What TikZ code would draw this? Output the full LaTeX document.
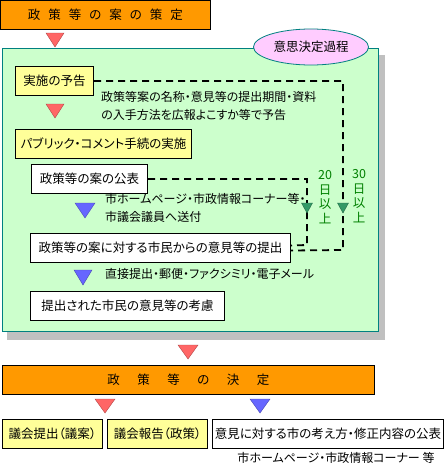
\documentclass[tikz,border=0pt]{standalone}
\usepackage{fontspec}
\setmainfont{Noto Sans CJK JP}[RawFeature={+palt}]
\usepackage{tikz}
\usetikzlibrary{shapes.geometric}
\definecolor{panelgreen}{RGB}{204,255,204}
\definecolor{panelteal}{RGB}{0,128,128}
\definecolor{boxyellow}{RGB}{255,255,153}
\definecolor{headorange}{RGB}{255,153,0}
\definecolor{ovalpink}{RGB}{255,204,255}
\definecolor{trired}{RGB}{255,102,102}
\definecolor{triblue}{RGB}{102,102,255}
\definecolor{trigreen}{RGB}{51,153,102}
\definecolor{daygreen}{RGB}{0,128,0}
\definecolor{shadowgray}{RGB}{192,192,192}
\newcommand{\tgap}{\hspace{8pt}}
\newcommand{\dgap}{\hspace{17.5pt}}
\newcommand{\dntri}[5]{\fill[#1,draw=#1!70!black,line width=0.4pt] (#2-#4,#3) -- (#2+#4,#3) -- (#2,#3+#5) -- cycle;}
\tikzset{
  box/.style={draw,line width=1pt,inner sep=0pt,anchor=north west,minimum height=29pt,font=\fontsize{12.5}{14}\selectfont},
  ybox/.style={box,fill=boxyellow},
  wbox/.style={box,fill=white},
  obox/.style={box,fill=headorange,line width=0.8pt},
  note/.style={anchor=north west,inner sep=0pt,align=left,font=\fontsize{12}{18}\selectfont},
  days/.style={text=daygreen,inner sep=0pt,align=center,font=\fontsize{12.5}{14.5}\selectfont},
  dashline/.style={line width=1.8pt,dash pattern=on 7pt off 5pt}
}

\begin{document}
\begin{tikzpicture}[x=1pt,y=-1pt]
\useasboundingbox (0,0) rectangle (444,463);
\node[obox,minimum width=210pt] (plan) at (0,0) {政\tgap 策\tgap 等\tgap の\tgap 案\tgap の\tgap 策\tgap 定};
\dntri{trired}{55}{33}{9}{14}
\fill[shadowgray] (7,55) rectangle (385,340);
\draw[panelteal,fill=panelgreen,line width=0.8pt] (2,48) rectangle (378,331);
\node[ellipse,draw=panelteal,fill=ovalpink,line width=0.8pt,minimum width=115pt,minimum height=36pt,inner sep=0pt,font=\fontsize{12.5}{14}\selectfont] (process) at (311,47) {意思決定過程};
\node[ybox,minimum width=78pt] (yotei) at (15,66) {実施の予告};
\dntri{trired}{55}{104}{9}{14}
\node[note] (yoteinote) at (101,91) {政策等案の名称・意見等の提出期間・資料\\の入手方法を広報よこすか等で予告};
\node[ybox,minimum width=176pt] (jisshi) at (15,129) {パブリック・コメント手続の実施};
\node[wbox,minimum width=116pt] (kohyo) at (31,164) {政策等の案の公表};
\dntri{triblue}{85}{203}{10}{15}
\node[note] (sofu) at (105,193) {市ホームページ・市政情報コーナー等・\\市議会議員へ送付};
\node[wbox,minimum width=260pt] (iken) at (30,233) {政策等の案に対する市民からの意見等の提出};
\dntri{triblue}{83}{270}{9}{15}
\node[note] (hoho) at (105,268) {直接提出・郵便・ファクシミリ・電子メール};
\node[wbox,minimum width=194pt] (koryo) at (30,291) {提出された市民の意見等の考慮};
\coordinate (c20) at (307,245);
\coordinate (c30) at (343,250);
\draw[dashline] (yotei.east) -| (c30) -- ([yshift=-2.5pt]iken.east);
\draw[dashline] (kohyo.east) -| (c20) -- ([yshift=2.5pt]iken.east);
\dntri{trigreen}{307}{203}{5.5}{10}
\dntri{trigreen}{343}{203}{5.5}{10}
\node[days] (d20) at (325,197) {20\\日\\以\\上};
\node[days] (d30) at (359,196) {30\\日\\以\\上};
\dntri{trired}{188}{345}{10}{14}
\node[obox,minimum width=372pt] (kettei) at (2,365) {政\dgap 策\dgap 等\dgap の\dgap 決\dgap 定};
\dntri{trired}{105}{399}{10}{14}
\dntri{triblue}{260}{399}{10}{14}
\node[ybox,minimum width=100pt] (gian) at (2,419) {議会提出（議案）};
\node[ybox,minimum width=100pt] (hokoku) at (107,419) {議会報告（政策）};
\node[wbox,minimum width=231pt] (kangae) at (212,419) {意見に対する市の考え方・修正内容の公表};
\node[font=\fontsize{12}{14}\selectfont,inner sep=0pt] (media) at (336,458) {市ホームページ・市政情報コーナー 等};
\end{tikzpicture}
\end{document}
